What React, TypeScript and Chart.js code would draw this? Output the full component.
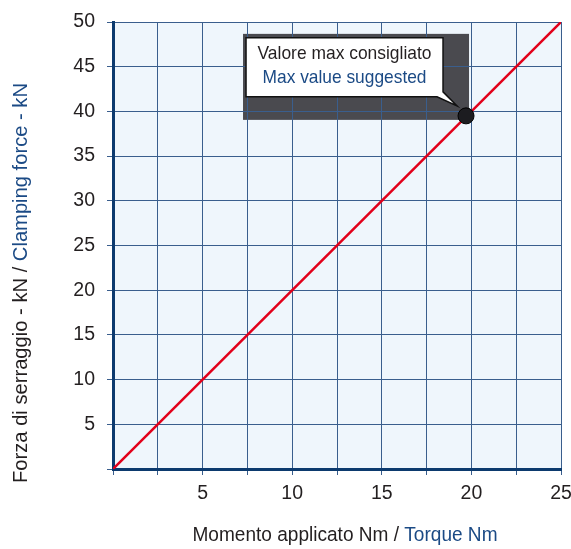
import React, { useEffect, useRef } from 'react';
import { Chart, registerables } from 'chart.js';

Chart.register(...registerables);

// ---- Data ----
const torqueNm = [0, 25];
const clampingForceKN = [0, 50];
const maxTorqueNm = [19.7];
const maxForceKN = [39.5];
const xMin = 0, xMax = 25, xStep = 2.5, xLabelEvery = 5;
const yMin = 0, yMax = 50, yStep = 5;
const xTitleIt = 'Momento applicato Nm / ';
const xTitleEn = 'Torque Nm';
const yTitleIt = 'Forza di serraggio - kN / ';
const yTitleEn = 'Clamping force - kN';
const calloutIt = 'Valore max consigliato';
const calloutEn = 'Max value suggested';

// ---- Styles ----
const FONT = "'Liberation Sans', Arial, Helvetica, sans-serif";
const DARK = '#231f20';
const BLUE = '#1b4a85';
const GRID = '#3a5e8d';
const AXIS = '#0c3a6e';
const RED = '#e2001a';
const BG = '#eff6fc';

// draw text horizontally condensed so that it has the given size and width
function drawCondensed(
  ctx: CanvasRenderingContext2D,
  parts: { text: string; color: string }[],
  cx: number, cy: number, size: number, width: number
) {
  ctx.save();
  ctx.font = `${size}px ${FONT}`;
  const widths = parts.map((p) => ctx.measureText(p.text).width);
  const total = widths.reduce((s, w) => s + w, 0);
  const sx = width / total;
  ctx.translate(cx, cy);
  ctx.scale(sx, 1);
  ctx.textBaseline = 'middle';
  ctx.textAlign = 'left';
  let x = -total / 2;
  parts.forEach((p, i) => {
    ctx.fillStyle = p.color;
    ctx.fillText(p.text, x, 0);
    x += widths[i];
  });
  ctx.restore();
}

const decorPlugin = {
  id: 'decor',
  beforeDraw(chart: any) {
    const { ctx, chartArea: a, scales } = chart;
    ctx.save();
    ctx.fillStyle = BG;
    ctx.fillRect(a.left, a.top, a.right - a.left, a.bottom - a.top);
    const px = scales.x.getPixelForValue(maxTorqueNm[0]);
    const py = scales.y.getPixelForValue(maxForceKN[0]);
    ctx.fillStyle = '#4a4a4f';
    ctx.fillRect(px - 223, py - 82, 226, 86);
    ctx.restore();
  },
  beforeDatasetsDraw(chart: any) {
    const { ctx, scales } = chart;
    const px = scales.x.getPixelForValue(maxTorqueNm[0]);
    const py = scales.y.getPixelForValue(maxForceKN[0]);
    ctx.save();
    const L = px - 220, R = px - 23, T = py - 78, B = py - 19;
    ctx.beginPath();
    ctx.moveTo(L, T);
    ctx.lineTo(R, T);
    ctx.lineTo(R, B - 5);
    ctx.lineTo(px - 9, py - 10);
    ctx.lineTo(R - 6, B);
    ctx.lineTo(L, B);
    ctx.closePath();
    ctx.fillStyle = '#ffffff';
    ctx.fill();
    ctx.lineWidth = 1.5;
    ctx.strokeStyle = '#111111';
    ctx.stroke();
    ctx.restore();
    const cx = (L + R) / 2;
    drawCondensed(ctx, [{ text: calloutIt, color: DARK }], cx, py - 62, 18.5, 174);
    drawCondensed(ctx, [{ text: calloutEn, color: BLUE }], cx, py - 38, 18.5, 164);
  },
  afterDraw(chart: any) {
    const { ctx } = chart;
    drawCondensed(ctx, [{ text: xTitleIt, color: DARK }, { text: xTitleEn, color: BLUE }], 345, 535, 20.5, 305);
    ctx.save();
    ctx.translate(21, 283);
    ctx.rotate(-Math.PI / 2);
    drawCondensed(ctx, [{ text: yTitleIt, color: DARK }, { text: yTitleEn, color: BLUE }], 0, 0, 20.5, 400);
    ctx.restore();
  },
};

export default function App() {
  const ref = useRef<HTMLCanvasElement | null>(null);
  useEffect(() => {
    if (!ref.current) return;
    const lineData = torqueNm.map((x, i) => ({ x, y: clampingForceKN[i] }));
    const pointData = maxTorqueNm.map((x, i) => ({ x, y: maxForceKN[i] }));
    const chart = new Chart(ref.current, {
      type: 'scatter',
      data: {
        datasets: [
          {
            data: lineData,
            showLine: true,
            borderColor: RED,
            borderWidth: 2.5,
            pointRadius: 0,
            order: 2,
          },
          {
            data: pointData,
            pointRadius: 8,
            pointBackgroundColor: '#1c1c20',
            pointBorderColor: '#000000',
            pointBorderWidth: 1,
            order: 1,
          },
        ],
      },
      options: {
        animation: false,
        responsive: false,
        devicePixelRatio: 1,
        layout: { padding: { top: 22, right: 10, left: 0, bottom: 0 } },
        plugins: { legend: { display: false }, tooltip: { enabled: false } },
        scales: {
          x: {
            type: 'linear',
            min: xMin,
            max: xMax,
            afterFit: (s: any) => { s.height = 80; s.paddingLeft = 0; s.paddingRight = 0; },
            grid: { color: GRID, lineWidth: 1, tickLength: 6, drawTicks: true },
            border: { color: AXIS, width: 3 },
            ticks: {
              stepSize: xStep,
              autoSkip: false,
              maxRotation: 0,
              padding: 7,
              color: DARK,
              font: { family: FONT, size: 19.5 },
              callback: (v: any) => (v !== 0 && Number(v) % xLabelEvery === 0 ? String(v) : ''),
            },
          },
          y: {
            type: 'linear',
            min: yMin,
            max: yMax,
            afterFit: (s: any) => { s.width = 113; s.paddingTop = 0; s.paddingBottom = 0; },
            grid: { color: GRID, lineWidth: 1, tickLength: 6, drawTicks: true },
            border: { color: AXIS, width: 3 },
            ticks: {
              stepSize: yStep,
              autoSkip: false,
              padding: 12,
              color: DARK,
              font: { family: FONT, size: 19.5 },
              callback: (v: any) => (v === 0 ? '' : String(v)),
            },
          },
        },
      },
      plugins: [decorPlugin],
    } as any);
    return () => chart.destroy();
  }, []);
  return (
    <div style={{ position: 'fixed', left: 0, top: 0, width: 571, height: 549, background: '#ffffff' }}>
      <canvas ref={ref} width={571} height={549} style={{ display: 'block' }} />
    </div>
  );
}
